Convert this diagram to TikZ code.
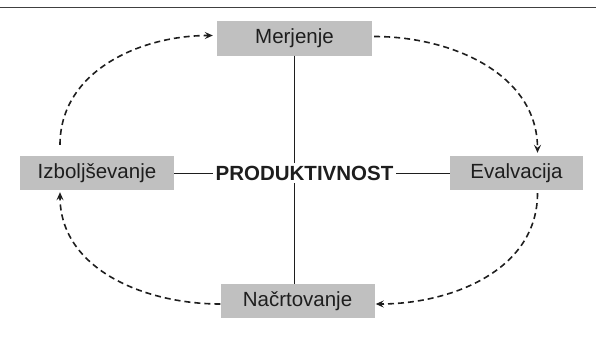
\documentclass[tikz,border=0pt]{standalone}
\usepackage{fontspec}
\setmainfont{Liberation Sans}
\usepackage{xcolor}
\usepackage{tikz}
\usetikzlibrary{positioning,arrows.meta,calc}

\definecolor{boxgray}{RGB}{192,192,192}
\definecolor{inkgray}{RGB}{30,30,30}

\begin{document}
\begin{tikzpicture}[
  x=1pt, y=-1pt,
  every node/.style={font=\fontsize{20.5}{24}\selectfont, text=inkgray},
  box/.style={fill=boxgray, inner sep=2pt, align=center,
              minimum height=34pt},
  hub/.style={fill=white, inner sep=3pt, font=\fontsize{20.5}{24}\selectfont\bfseries},
  link/.style={inkgray, line width=0.9pt},
  arr/.style={-{Stealth[length=8pt,width=7pt,inset=3pt]}, inkgray,
              line width=1.6pt, dash pattern=on 6pt off 4pt}
]
\useasboundingbox (0,0) rectangle (596,337);
\draw[inkgray!85, line width=1.2pt] (0,7.5) -- (596,7.5);
\node[box, minimum width=155pt] (meas) at (294.5,38.5) {Merjenje};
\node[box, minimum width=154pt] (impr) at (97,173)     {Izboljševanje};
\node[box, minimum width=133pt] (eval) at (516.5,173)  {Evalvacija};
\node[box, minimum width=154pt] (plan) at (297.5,301)  {Načrtovanje};
\draw[link] (meas.south) -- (meas.south |- plan.north);
\draw[link] (impr.east) -- (eval.west);
\node[hub] (prod) at (304.5,173) {PRODUKTIVNOST};
% cycle
\draw[arr] ([xshift=-37pt,yshift=11pt]impr.north) to[out=90,in=180]
  ([xshift=-4pt,yshift=3pt]meas.west);
\draw[arr] ([xshift=2pt,yshift=2pt]meas.east) to[out=0,in=90]
  ([xshift=21pt,yshift=3pt]eval.north);
\draw[arr] ([xshift=21pt,yshift=-3pt]eval.south) to[out=-90,in=0]
  ([xshift=1pt,yshift=-3pt]plan.east);
\draw[arr] ([yshift=-3pt]plan.west) to[out=180,in=-90]
  ([xshift=-37pt,yshift=-2pt]impr.south);
\end{tikzpicture}
\end{document}
